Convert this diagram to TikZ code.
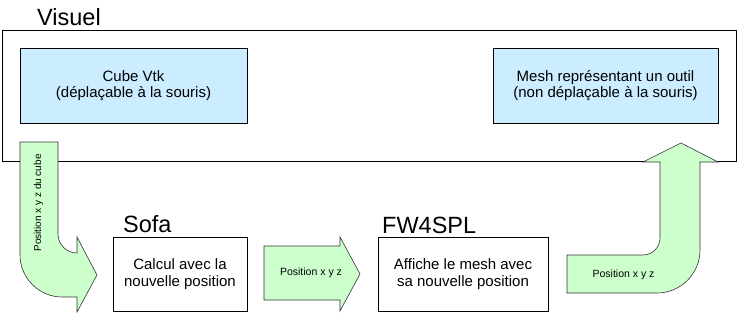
\documentclass[tikz,border=0pt]{standalone}
\usepackage{fontspec}
\setmainfont{Liberation Sans}
\begin{document}
\definecolor{boxblue}{RGB}{204,236,255}
\definecolor{arrowgreen}{RGB}{204,255,204}
\begin{tikzpicture}[x=1pt,y=-1pt,
  frame/.style={draw=black,line width=0.8pt,inner sep=0pt},
  bluebox/.style={frame,fill=boxblue,align=center,font=\fontsize{15}{16.5}\selectfont},
  whitebox/.style={frame,fill=white,align=center,font=\fontsize{15}{16.5}\selectfont},
  title/.style={anchor=base west,inner sep=0pt,font=\fontsize{23.5}{26}\selectfont},
  blockarrow/.style={draw=black!80,line width=0.6pt,fill=arrowgreen,line join=miter},
  arrowtext/.style={inner sep=0pt,font=\fontsize{10.5}{12}\selectfont}]
\useasboundingbox (0,0) rectangle (738,313);

% outer frame of the visual layer
\node[frame,minimum width=734pt,minimum height=131pt] (visuel) at (369,95.5) {};
\node[title] (visuellabel) at (37,26) {Visuel};

\node[bluebox,minimum width=227pt,minimum height=75pt] (cube) at (133.5,85.5)
  {Cube Vtk\\(déplaçable à la souris)};
\node[bluebox,minimum width=225pt,minimum height=75pt] (mesh) at (605.5,85.5)
  {Mesh représentant un outil\\(non déplaçable à la souris)};

% computation blocks
\node[whitebox,minimum width=134pt,minimum height=74pt] (sofa) at (180,274)
  {Calcul avec la\\nouvelle position};
\node[title] (sofalabel) at (123,232) {Sofa};
\node[whitebox,minimum width=170pt,minimum height=74pt] (fw) at (463,274)
  {Affiche le mesh avec\\sa nouvelle position};
\node[title] (fwlabel) at (382,233) {FW4SPL};

% bent arrow: cube -> Sofa
\draw[blockarrow] (20,142) -- (58,142) -- (58,234)
  .. controls (58,244.5) and (66.5,253) .. (77,253)
  -- (77,237) -- (97,275) -- (77,312) -- (77,297) -- (62,297)
  .. controls (39,297) and (20,278) .. (20,255) -- cycle;
\node[arrowtext,rotate=90,font=\fontsize{10}{12}\selectfont] (lbl1) at (38.5,203) {Position x y z du cube};

% straight arrow: Sofa -> FW4SPL
\draw[blockarrow] (264,246) -- (340,246) -- (340,237) -- (360,274)
  -- (340,311) -- (340,300) -- (264,300) -- cycle;
\node[arrowtext] (lbl2) at (311,273) {Position x y z};

% bent arrow: FW4SPL -> mesh
\draw[blockarrow] (567,255) -- (643,255)
  .. controls (652.4,255) and (660,247.4) .. (660,238)
  -- (660,162) -- (643,162) -- (681,143) -- (718,162) -- (700,162) -- (700,250)
  .. controls (700,273.7) and (680.7,293) .. (657,293) -- (567,293) -- cycle;
\node[arrowtext] (lbl3) at (623.5,275) {Position x y z};
\end{tikzpicture}
\end{document}
